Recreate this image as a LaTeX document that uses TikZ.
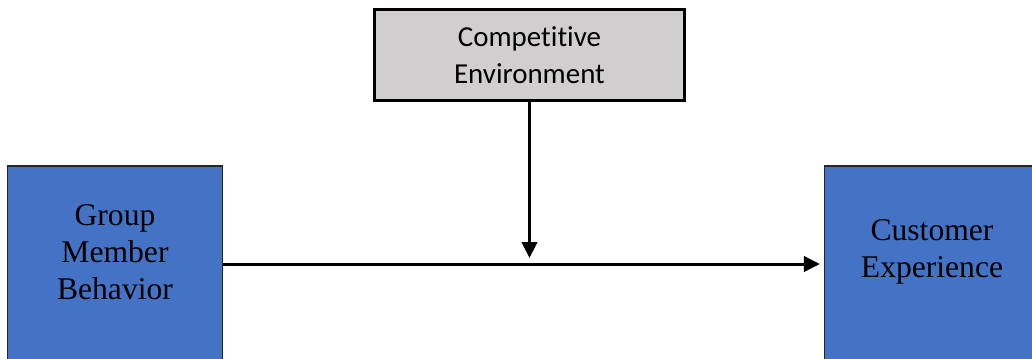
\documentclass[tikz,border=0pt]{standalone}
\usepackage{fontspec}
\setmainfont{Liberation Serif}
\newfontfamily\calibri[Ligatures=NoCommon]{Carlito}
\usetikzlibrary{arrows.meta,positioning}
\definecolor{boxblue}{HTML}{4472C4}
\definecolor{envgray}{HTML}{D0CECE}

\tikzset{
  mainbox/.style={draw=black!85,line width=1.2pt,fill=boxblue,minimum width=161pt,minimum height=147pt},
  boxtext/.style={align=center,font=\fontsize{23.7}{27.75}\selectfont,yshift=9pt},
  envbox/.style={draw,line width=2.25pt,fill=envgray,minimum width=232.5pt,minimum height=68.25pt,
    align=center,font=\calibri\fontsize{21.7}{27.75}\selectfont},
  link/.style={line width=2.25pt,-{Triangle[length=12pt,width=11.5pt]}}
}

\begin{document}
\begin{tikzpicture}[x=0.75pt,y=-0.75pt]
\useasboundingbox (0,0) rectangle (1032,358);
\clip (0,0) rectangle (1032,358);
\node[envbox] (env) at (529.5,55) {Competitive\\Environment};
\node[mainbox,label={[boxtext]center:Group\\Member\\Behavior}] (grp) at (115,264) {};
\node[mainbox,label={[boxtext]center:Customer\\Experience}] (cust) at (932,264) {};
\coordinate (mid) at (529.5,258);
\draw[link] (env.south) -- (mid);
\draw[link,shorten >=3pt] (grp.east) -- (cust.west);
\end{tikzpicture}
\end{document}
